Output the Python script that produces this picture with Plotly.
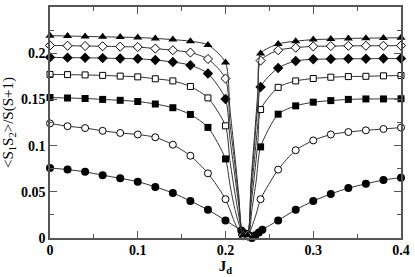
import plotly.graph_objects as go

# ---------------- data ----------------
x_left = [0.00, 0.02, 0.04, 0.06, 0.08, 0.10, 0.12, 0.14, 0.16, 0.18, 0.20]
x_right = [0.24, 0.26, 0.28, 0.30, 0.32, 0.34, 0.36, 0.38, 0.40]

# filled triangles (top series)
tri_left = [0.219, 0.2186, 0.2182, 0.2178, 0.2174, 0.2170, 0.2160, 0.2147, 0.2130, 0.2090, 0.1900]
tri_right = [0.1997, 0.2100, 0.2130, 0.2147, 0.2153, 0.2160, 0.2163, 0.2165, 0.2167]
tri_dip_x = [0.220, 0.225]
tri_dip_y = [0.003, 0.003]
tri_bend_x = [0.205, 0.210, 0.215, 0.229, 0.233, 0.237]
tri_bend_y = [0.140, 0.095, 0.048, 0.060, 0.110, 0.160]

# open diamonds
odi_left = [0.2084, 0.2081, 0.2078, 0.2075, 0.2071, 0.2067, 0.2050, 0.2032, 0.2007, 0.1937, 0.1726]
odi_right = [0.1920, 0.2032, 0.2060, 0.2074, 0.2077, 0.2080, 0.2080, 0.2081, 0.2082]
odi_dip_x = [0.220, 0.225]
odi_dip_y = [0.003, 0.003]
odi_bend_x = [0.205, 0.210, 0.215, 0.229, 0.233, 0.237]
odi_bend_y = [0.125, 0.085, 0.043, 0.055, 0.100, 0.150]

# filled diamonds
fdi_left = [0.1955, 0.1952, 0.1950, 0.1947, 0.1943, 0.1940, 0.1926, 0.1905, 0.1870, 0.1780, 0.1505]
fdi_right = [0.1635, 0.1840, 0.1916, 0.1934, 0.1937, 0.1940, 0.1940, 0.1942, 0.1942]
fdi_dip_x = [0.220, 0.225]
fdi_dip_y = [0.003, 0.003]
fdi_bend_x = [0.205, 0.210, 0.215, 0.229, 0.233, 0.237]
fdi_bend_y = [0.108, 0.072, 0.036, 0.045, 0.085, 0.125]

# open squares
osq_left = [0.1770, 0.1768, 0.1765, 0.1760, 0.1752, 0.1744, 0.1723, 0.1700, 0.1640, 0.1516, 0.1214]
osq_right = [0.1390, 0.1630, 0.1700, 0.1726, 0.1740, 0.1747, 0.1750, 0.1755, 0.1758]
osq_dip_x = [0.220, 0.225]
osq_dip_y = [0.003, 0.003]
osq_bend_x = [0.205, 0.210, 0.215, 0.229, 0.233, 0.237]
osq_bend_y = [0.084, 0.053, 0.025, 0.035, 0.068, 0.105]

# filled squares
fsq_left = [0.1520, 0.1515, 0.1510, 0.1500, 0.1490, 0.1477, 0.1450, 0.1410, 0.1337, 0.1197, 0.0856]
fsq_right = [0.0986, 0.1340, 0.1430, 0.1470, 0.1487, 0.1500, 0.1505, 0.1505, 0.1507]
fsq_dip_x = [0.219, 0.226]
fsq_dip_y = [0.006, 0.003]
fsq_bend_x = [0.205, 0.210, 0.215, 0.230, 0.235]
fsq_bend_y = [0.058, 0.034, 0.016, 0.030, 0.062]

# open circles
oci_left = [0.1240, 0.1210, 0.1190, 0.1160, 0.1137, 0.1120, 0.1090, 0.1010, 0.0890, 0.0700, 0.0420]
oci_right = [0.0420, 0.0740, 0.0950, 0.1056, 0.1120, 0.1147, 0.1165, 0.1180, 0.1195]
oci_dip_x = [0.220, 0.225]
oci_dip_y = [0.002, 0.002]
oci_bend_x = [0.210, 0.215, 0.230, 0.235]
oci_bend_y = [0.018, 0.008, 0.012, 0.026]

# filled circles (bottom series)
fci_left = [0.0758, 0.0740, 0.0716, 0.0680, 0.0646, 0.0610, 0.0553, 0.0488, 0.0400, 0.0305, 0.0190]
fci_right = [0.0190, 0.0305, 0.0400, 0.0477, 0.0540, 0.0586, 0.0628, 0.0653]
fci_right_x = [0.26, 0.28, 0.30, 0.32, 0.34, 0.36, 0.38, 0.40]
fci_dip_x = [0.218, 0.222, 0.226, 0.230, 0.234, 0.238, 0.242]
fci_dip_y = [0.008, 0.005, 0.002, 0.000, 0.003, 0.006, 0.009]
fci_bend_x = []
fci_bend_y = []

x_ticks = [0, 0.1, 0.2, 0.3, 0.4]
y_ticks = [0, 0.05, 0.1, 0.15, 0.2, 0.25]

# ---------------- figure ----------------
series = [
    ("filled circle", x_left, fci_left, fci_right_x, fci_right, fci_dip_x, fci_dip_y, fci_bend_x, fci_bend_y, "circle", 8),
    ("open circle", x_left, oci_left, x_right, oci_right, oci_dip_x, oci_dip_y, oci_bend_x, oci_bend_y, "circle-open", 8),
    ("filled square", x_left, fsq_left, x_right, fsq_right, fsq_dip_x, fsq_dip_y, fsq_bend_x, fsq_bend_y, "square", 7),
    ("open square", x_left, osq_left, x_right, osq_right, osq_dip_x, osq_dip_y, osq_bend_x, osq_bend_y, "square-open", 7),
    ("filled diamond", x_left, fdi_left, x_right, fdi_right, fdi_dip_x, fdi_dip_y, fdi_bend_x, fdi_bend_y, "diamond", 8),
    ("open diamond", x_left, odi_left, x_right, odi_right, odi_dip_x, odi_dip_y, odi_bend_x, odi_bend_y, "diamond-open", 8),
    ("filled triangle", x_left, tri_left, x_right, tri_right, tri_dip_x, tri_dip_y, tri_bend_x, tri_bend_y, "triangle-up", 8),
]

fig = go.Figure()
for name, xl, yl, xr, yr, xd, yd, xb, yb, sym, sz in series:
    pts = sorted(zip(list(xl) + list(xd) + list(xr) + list(xb), list(yl) + list(yd) + list(yr) + list(yb)))
    lx = [p[0] for p in pts]
    ly = [p[1] for p in pts]
    fig.add_trace(go.Scatter(x=lx, y=ly, mode="lines", line=dict(color="#333333", width=1, shape="spline", smoothing=0.7),
                             hoverinfo="skip", showlegend=False, cliponaxis=False))
    mx = list(xl) + list(xd) + list(xr)
    my = list(yl) + list(yd) + list(yr)
    if "open" in sym:
        marker = dict(symbol=sym.replace("-open", ""), size=sz - 1, color="white", line=dict(color="black", width=1))
    else:
        marker = dict(symbol=sym, size=sz, color="black", line=dict(color="black", width=0))
    fig.add_trace(go.Scatter(x=mx, y=my, mode="markers", marker=marker, name=name,
                             showlegend=False, cliponaxis=False))

axis_common = dict(
    showline=True, linecolor="#555555", linewidth=1.5, mirror="allticks",
    ticks="inside", ticklen=7, tickwidth=1, tickcolor="#555555",
    showgrid=False, zeroline=False,
    tickfont=dict(family="Liberation Serif", size=14, color="black", weight="bold"),
)

fig.update_xaxes(range=[0, 0.4], tickvals=x_ticks, ticktext=[str(v) for v in x_ticks],
                 ticklabelstandoff=-2,
                 minor=dict(dtick=0.05, ticks="inside", ticklen=4, tickcolor="#555555", showgrid=False),
                 title=dict(text="<b>J<sub>d</sub></b>", font=dict(family="Liberation Serif", size=15, color="black"), standoff=4),
                 **axis_common)
fig.update_yaxes(range=[0, 0.25], tickvals=y_ticks, ticktext=["0", "0.05", "0.1", "0.15", "0.2", "0.25"],
                 minor=dict(dtick=0.025, ticks="inside", ticklen=4, tickcolor="#555555", showgrid=False),
                 title=dict(text="&lt;S<sub>1</sub>S<sub>2</sub>&gt;/S(S+1)", font=dict(family="Liberation Serif", size=15, color="black"), standoff=4),
                 **axis_common)

fig.update_layout(width=415, height=277, margin=dict(l=50, r=11, t=5, b=34),
                  paper_bgcolor="white", plot_bgcolor="white", showlegend=False)

fig.write_html("out.html", config={"displayModeBar": False},
               post_script="document.body.style.margin='0px';")
